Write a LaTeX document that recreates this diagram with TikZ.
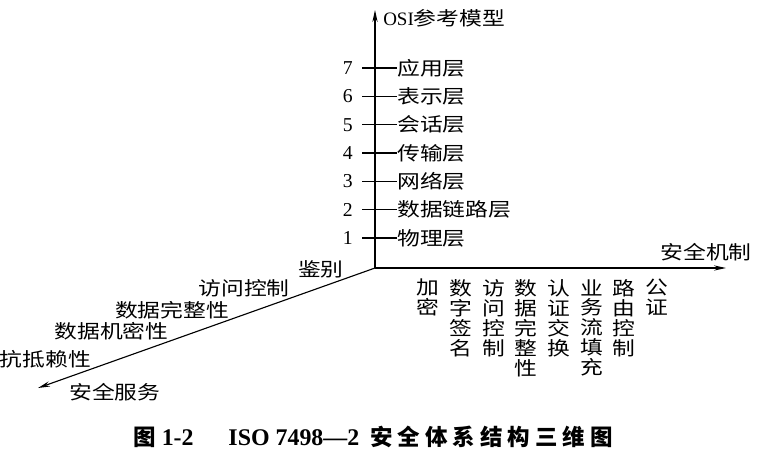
\documentclass[tikz,border=0pt]{standalone}
\usepackage{fontspec}
\setmainfont{Liberation Serif}
\newfontfamily\cjk[FakeStretch=1.2]{Noto Sans CJK SC}
\newfontfamily\capcjk[LetterSpace=22]{Noto Sans CJK SC}
\usetikzlibrary{arrows.meta,positioning}

\tikzset{
  axis/.style={line width=0.8pt, -{Stealth[length=3mm,width=1.3mm]}},
  tick/.style={line width=0.8pt},
  lbl/.style={font=\cjk\fontsize{13.5}{15}\selectfont, inner sep=0pt},
  col/.style={font=\cjk\fontsize{13.5}{14.2}\selectfont, inner sep=0pt, align=center, anchor=north},
  svc/.style={lbl, anchor=south east, inner sep=0.5pt},
  num/.style={font=\fontsize{14}{15}\selectfont, inner xsep=6.4pt, inner ysep=0pt, anchor=east}
}

\begin{document}
\begin{tikzpicture}[x=0.025cm, y=0.025cm]
            \useasboundingbox (0,0) rectangle (761,450);

            % Axes
            \coordinate (O) at (375,182);
            \coordinate (ztip) at (375,440);
            \coordinate (xtip) at (726,182);
            \coordinate (ytip) at (38,62);
            \draw[axis] (O) -- (ztip);
            \draw[axis] (O) -- (xtip);
            \draw[axis] (O) -- (ytip);

            \node[lbl, anchor=west] (osi) at (383,432) {{\rmfamily OSI}参考模型};
            \node[lbl, anchor=south east] (mech) at (752,189) {安全机制};
            \node[lbl, anchor=west] (serv) at (69,58) {安全服务};

            % OSI layers
            \foreach \i/\layer in {1/物理层,2/数据链路层,3/网络层,4/传输层,5/会话层,6/表示层,7/应用层}{
              \node[num] (n\i) at (362,{183.7+28.33*\i}) {\i};
              \node[lbl, anchor=west] (l\i) at (397,{183.7+28.33*\i}) {\layer};
              \draw[tick] (n\i.east) -- (l\i.west);
            }

            % Security mechanisms
            \foreach \i/\mech in {0/{加\\密},1/{数\\字\\签\\名},2/{访\\问\\控\\制},3/{数\\据\\完\\整\\性},
                                  4/{认\\证\\交\\换},5/{业\\务\\流\\填\\充},6/{路\\由\\控\\制},7/{公\\证}}{
              \node[col] (m\i) at ({428+32.7*\i},171) {\mech};
            }

            % Security services
            \path (O) -- (ytip)
              node[svc, pos=0.09] (s1) {鉴别}
              node[svc, pos=0.25] (s2) {访问控制}
              node[svc, pos=0.43] (s3) {数据完整性}
              node[svc, pos=0.61] (s4) {数据机密性}
              node[svc, pos=0.84] (s5) {抗抵赖性};

            % Caption
            \node[anchor=west, inner sep=0pt, font=\bfseries\fontsize{17}{18}\selectfont] (cap) at (133,13)
              {{\capcjk\fontsize{16}{18}\selectfont 图}\hspace{0.15cm}1-2\hspace{0.87cm}ISO 7498—2\hspace{0.28cm}{\capcjk\fontsize{16}{18}\selectfont 安全体系结构三维图}};
        \end{tikzpicture}
\end{document}
